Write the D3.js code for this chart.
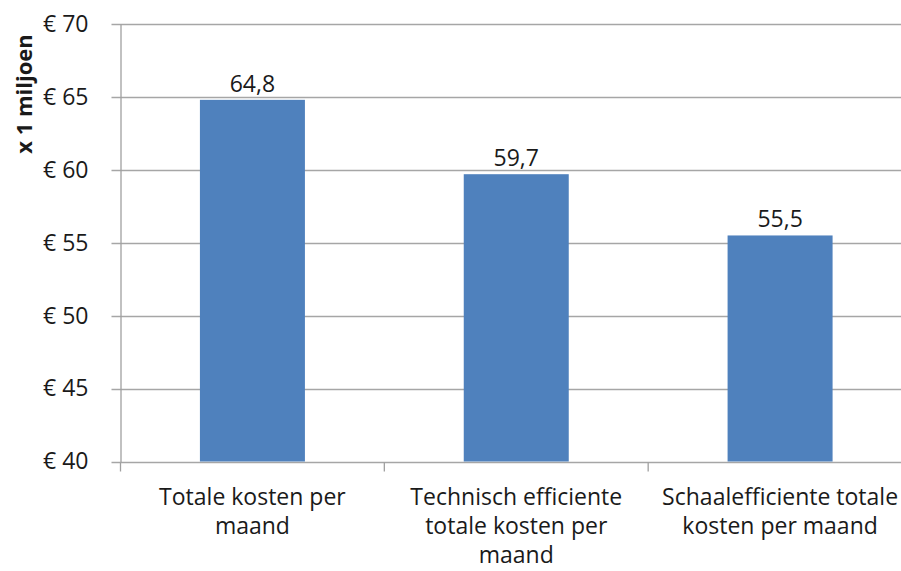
<!DOCTYPE html>
<html>
<head>
<meta charset="utf-8">
<script src="https://cdn.jsdelivr.net/npm/d3@7"></script>
<style>
  body { margin: 0; background: #fff; }
  text { font-family: "Open Sans", sans-serif; fill: #1a1a1a; }
</style>
</head>
<body>
<div id="chart"></div>
<script>
// data
const categories = ["Totale kosten per maand", "Technisch efficiente totale kosten per maand", "Schaalefficiente totale kosten per maand"];
const labelLines = [
  ["Totale kosten per", "maand"],
  ["Technisch efficiente", "totale kosten per", "maand"],
  ["Schaalefficiente totale", "kosten per maand"]
];
const values = [64.8, 59.7, 55.5];
const yTicks = [40, 45, 50, 55, 60, 65, 70];

const W = 901, H = 571;
const margin = {top: 24, left: 120.5, bottom: 109.5};

const svg = d3.select("#chart").append("svg")
  .attr("width", W)
  .attr("height", H);

const x = d3.scaleBand()
  .domain(categories)
  .range([margin.left, 912])
  .padding(0);

const y = d3.scaleLinear()
  .domain([40, 70])
  .range([H - margin.bottom, margin.top]);

const barW = 105;

// gridlines
svg.append("g")
  .selectAll("line")
  .data(yTicks)
  .enter()
  .append("line")
  .attr("x1", margin.left - 9)
  .attr("x2", W)
  .attr("y1", d => Math.round(y(d)) + 0.5)
  .attr("y2", d => Math.round(y(d)) + 0.5)
  .attr("stroke", "#a6a6a6")
  .attr("stroke-width", 1.3);

// bars
svg.append("g")
  .selectAll("rect")
  .data(values)
  .enter()
  .append("rect")
  .attr("x", (d, i) => x(categories[i]) + (x.bandwidth() - barW) / 2)
  .attr("y", d => y(d))
  .attr("width", barW)
  .attr("height", d => y(40) - y(d))
  .attr("fill", "#4f81bd");

// value labels
svg.append("g")
  .selectAll("text")
  .data(values)
  .enter()
  .append("text")
  .attr("x", (d, i) => x(categories[i]) + x.bandwidth() / 2)
  .attr("y", d => y(d) - 8)
  .attr("text-anchor", "middle")
  .style("font-size", "23px")
  .text(d => d.toFixed(1).replace(".", ","));

// y axis
const yAxis = svg.append("g")
  .attr("transform", "translate(" + margin.left + ",0)")
  .call(d3.axisLeft(y).tickValues(yTicks).tickSize(0).tickPadding(32)
    .tickFormat(d => "\u20ac " + d));
yAxis.select(".domain").attr("stroke", "#a0a0a0").attr("stroke-width", 1.3);
yAxis.selectAll("text").style("font-size", "23px").attr("fill", "#1a1a1a");

// x axis
const xAxis = svg.append("g")
  .attr("transform", "translate(0," + (Math.round(y(40)) + 0.5) + ")");
xAxis.selectAll("line")
  .data(d3.range(categories.length + 1))
  .enter()
  .append("line")
  .attr("x1", i => margin.left + i * x.step())
  .attr("x2", i => margin.left + i * x.step())
  .attr("y1", 0)
  .attr("y2", 9)
  .attr("stroke", "#a0a0a0")
  .attr("stroke-width", 1.3);

const xl = xAxis.selectAll("text.cat")
  .data(categories)
  .enter()
  .append("text")
  .attr("class", "cat")
  .attr("text-anchor", "middle")
  .attr("transform", d => "translate(" + (x(d) + x.bandwidth() / 2) + ",42)")
  .style("font-size", "23px");
xl.each(function(d, i) {
  d3.select(this).selectAll("tspan")
    .data(labelLines[i])
    .enter()
    .append("tspan")
    .attr("x", 0)
    .attr("dy", (t, j) => j === 0 ? 0 : 29)
    .text(t => t);
});

// y title
svg.append("text")
  .attr("transform", "translate(32," + 94 + ") rotate(-90)")
  .attr("text-anchor", "middle")
  .style("font-size", "22px")
  .style("font-weight", "bold")
  .attr("fill", "#000")
  .text("x 1 miljoen");
</script>
</body>
</html>
